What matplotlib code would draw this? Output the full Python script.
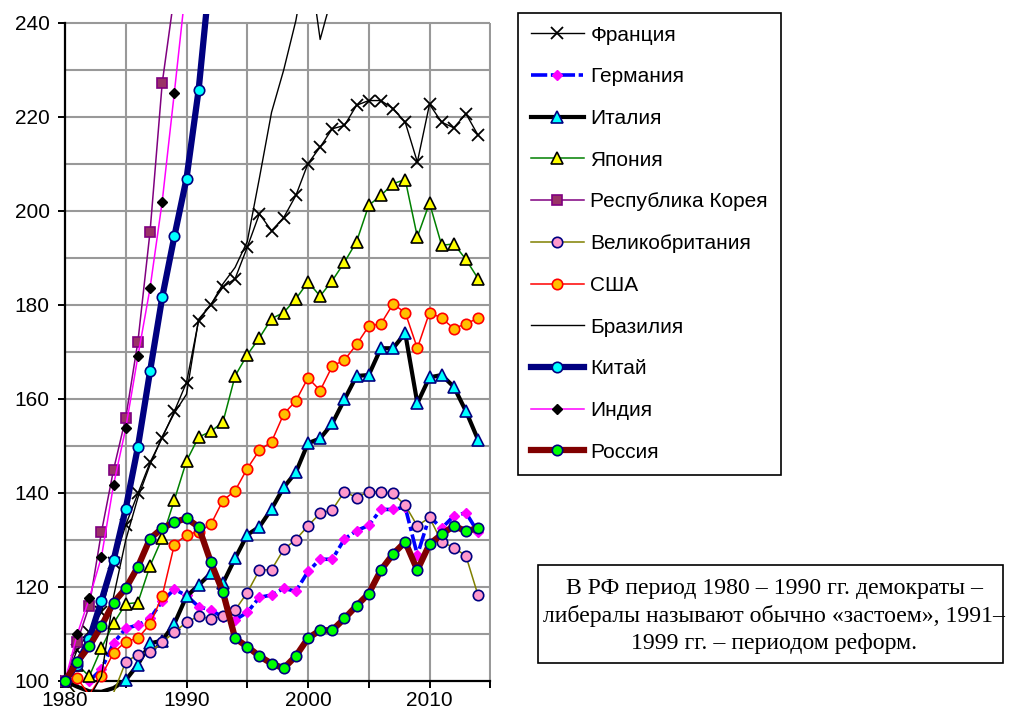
import matplotlib
matplotlib.use("Agg")
import matplotlib.pyplot as plt
from matplotlib.lines import Line2D
from matplotlib.patches import Rectangle

years = list(range(1980, 2015))

france = [100, 106.6, 110.5, 114.6, 125.1, 133.2, 139.9, 146.5, 151.7, 157.4,
          163.5, 176.7, 180.1, 183.8, 185.6, 192.3, 199.4, 195.8, 198.6, 203.3,
          210.1, 213.6, 217.5, 218.2, 222.5, 223.5, 223.5, 221.8, 218.9, 210.4,
          222.7, 218.9, 217.7, 220.7, 216.1]
germany = [100, 100.5, 100.0, 102.5, 108.1, 111.2, 111.9, 113.3, 117.0, 119.5,
           118.2, 115.8, 115.1, 113.6, 113.0, 114.6, 117.8, 118.3, 119.7, 119.1,
           123.3, 125.9, 125.9, 130.2, 132.0, 133.1, 136.5, 136.5, 137.0, 126.8,
           135.0, 132.5, 135.1, 135.8, 131.6]
italy = [100, 98.8, 97.8, 97.7, 98.5, 100.2, 103.5, 108.0, 108.6, 112.2,
         118.0, 120.4, 122.9, 120.8, 126.1, 131.1, 132.8, 136.6, 141.2, 144.4,
         150.6, 151.6, 154.8, 159.9, 164.9, 165.1, 170.8, 170.8, 174.0, 159.1,
         164.6, 165.1, 162.6, 157.4, 151.3]
japan = [100, 103.5, 101.0, 107.0, 112.3, 116.4, 116.7, 124.5, 130.4, 138.5,
         146.8, 151.9, 153.1, 155.1, 164.9, 169.4, 173.0, 177.1, 178.4, 181.3,
         184.9, 181.9, 185.2, 189.1, 193.5, 201.2, 203.3, 205.8, 206.7, 194.5,
         201.7, 192.7, 193.0, 189.7, 185.6]
korea = [100, 108.3, 116.0, 131.7, 145.0, 156.0, 172.2, 195.6, 227.2, 246,
         268, 295, 315, 340, 375, 420, 445, 420, 330, 395,
         450, 430, 480, 515, 570, 650, 720, 790, 700, 640,
         740, 800, 810, 860, 920]
uk = [100, 97.0, 96.5, 96.0, 97.5, 104.1, 105.6, 106.2, 108.2, 110.4,
      112.5, 113.8, 113.2, 113.8, 115.1, 118.8, 123.6, 123.7, 128.0, 130.1,
      133.0, 135.7, 136.4, 140.3, 139.0, 140.3, 140.3, 139.9, 137.4, 133.0,
      134.8, 129.6, 128.4, 126.6, 118.2]
usa = [100, 100.6, 97.0, 101.1, 106.0, 108.4, 109.1, 112.1, 118.1, 129.0,
       131.1, 131.8, 133.3, 138.4, 140.5, 145.2, 149.1, 150.9, 156.8, 159.6,
       164.5, 161.8, 167.0, 168.3, 171.6, 175.5, 176.0, 180.2, 178.4, 170.8,
       178.4, 177.2, 175.0, 176.0, 177.2]
brazil = [100, 97.0, 96.5, 101.0, 118.0, 130.0, 139.0, 146.0, 152.0, 157.0,
          161.0, 177.0, 180.0, 184.5, 188.0, 193.5, 207.0, 221.0, 230.0, 240.5,
          255.0, 236.5, 246.0, 262, 290, 340, 400, 480, 560, 560,
          700, 780, 720, 700, 690]
china = [100, 103.5, 108.9, 117.1, 125.7, 136.7, 149.8, 165.9, 181.6, 194.6,
         206.9, 225.8, 252, 265, 300, 340, 380, 410, 420, 430,
         460, 500, 540, 600, 680, 800, 950, 1200, 1500, 1650,
         1900, 2300, 2500, 2700, 2900]
india = [100, 109.9, 117.6, 126.4, 141.8, 153.8, 169.1, 183.6, 202.0, 225.2,
         249, 247, 260, 265, 290, 330, 355, 370, 385, 410,
         430, 450, 470, 560, 670, 770, 880, 1150, 1180, 1300,
         1600, 1750, 1750, 1780, 1950]
russia = [100, 104.0, 107.4, 111.7, 116.7, 119.7, 124.3, 130.3, 132.5, 133.8,
          134.6, 132.8, 125.3, 118.9, 109.1, 107.3, 105.3, 103.7, 102.7, 105.3,
          109.1, 110.8, 110.8, 113.3, 116.0, 118.6, 123.6, 127.0, 129.6, 123.6,
          129.1, 131.2, 133.0, 131.9, 132.5]

note = ("В РФ период 1980 – 1990 гг. демократы –\n"
        "либералы называют обычно «застоем», 1991–\n"
        "1999 гг. – периодом реформ.")

series = [
    ('Франция', france, dict(color='black', lw=1.0, marker='x', ms=9, mew=1.3)),
    ('Германия', germany, dict(color='#0000FF', lw=2.6, dashes=(4.5, 1.0, 1.2, 1.0),
                               marker='D', ms=5, mfc='#FF00FF', mec='#FF00FF')),
    ('Италия', italy, dict(color='black', lw=3.0, marker='^', ms=9,
                           mfc='#00FFFF', mec='#000080', mew=1.2)),
    ('Япония', japan, dict(color='#008000', lw=1.1, marker='^', ms=9,
                           mfc='#FFFF00', mec='black', mew=1.2)),
    ('Республика Корея', korea, dict(color='#800080', lw=1.1, marker='s', ms=7,
                                     mfc='#993366', mec='#800080', mew=1.2)),
    ('Великобритания', uk, dict(color='#808000', lw=1.1, marker='o', ms=7.5,
                                mfc='#FF99CC', mec='#000080', mew=1.2)),
    ('США', usa, dict(color='#FF0000', lw=1.1, marker='o', ms=7.5,
                      mfc='#FFC000', mec='#FF0000', mew=1.2)),
    ('Бразилия', brazil, dict(color='black', lw=1.0)),
    ('Китай', china, dict(color='#000080', lw=4.5, marker='o', ms=7.5,
                          mfc='#00FFFF', mec='#000080', mew=1.2)),
    ('Индия', india, dict(color='#FF00FF', lw=1.1, marker='D', ms=5,
                          mfc='black', mec='black')),
    ('Россия', russia, dict(color='#800000', lw=4.5, marker='o', ms=7.5,
                            mfc='#00FF00', mec='#000080', mew=1.2)),
]

plt.rcParams['font.family'] = ['Liberation Sans', 'DejaVu Sans']

W, H = 1017, 719
fig = plt.figure(figsize=(W / 100, H / 100), dpi=100)

# pixel geometry of the plot area (1980 -> x=65, 100 -> y=681)
x0, sx = 65, 12.15
y0, sy = 681, 4.7
xl, xr = 1979.6, 2015.1
yb, yt = 97.66, 241.85
left = x0 + (xl - 1980) * sx
right = x0 + (xr - 1980) * sx
top = y0 - (yt - 100) * sy
bottom = y0 - (yb - 100) * sy
ax = fig.add_axes([left / W, 1 - bottom / H, (right - left) / W, (bottom - top) / H])
ax.set_xlim(xl, xr)
ax.set_ylim(yb, yt)
ax.patch.set_alpha(0)

grid = dict(color='#999999', lw=1.5, zorder=0)
ax.hlines(range(110, 241, 10), 1980, 2015, **grid)
ax.vlines(range(1985, 2016, 5), 100, 240, **grid)

for s in ('top', 'right'):
    ax.spines[s].set_visible(False)
ax.spines['left'].set_position(('data', 1980))
ax.spines['left'].set_bounds(100, 240)
ax.spines['bottom'].set_position(('data', 100))
ax.spines['bottom'].set_bounds(1980, 2015)
for s in ('left', 'bottom'):
    ax.spines[s].set_linewidth(1.6)
    ax.spines[s].set_zorder(1)

ax.set_xticks(range(1980, 2016, 5))
ax.set_xticklabels(['1980', '', '1990', '', '2000', '', '2010', ''])
ax.set_yticks(range(100, 241, 20))
ax.tick_params(direction='out', length=5, width=1.4, labelsize=15, pad=2)
ax.tick_params(axis='y', pad=6)

handles = []
for name, vals, st in series:
    # Excel does not draw markers for points under the axis minimum
    shown = [i for i, v in enumerate(vals) if v >= 99.5]
    ax.plot(years, vals, markevery=shown, **st)
    handles.append(Line2D([], [], label=name, **st))

leg = fig.legend(handles=handles, loc='upper left', bbox_to_anchor=(518 / W, 1 - 12.7 / H),
                 frameon=True, fancybox=False, framealpha=1, edgecolor='black',
                 fontsize=15, handlelength=2.55, handletextpad=0.3, labelspacing=1.09,
                 borderpad=0.62, borderaxespad=0, numpoints=1)
leg.get_frame().set_linewidth(1.2)

fig.add_artist(Rectangle((538 / W, 1 - 663 / H), (1003 - 538) / W, (663 - 565) / H,
                         transform=fig.transFigure, fill=False, ec='black', lw=1.2))
fig.text(774 / W, 1 - 616 / H, note, ha='center', va='center', fontsize=17.1,
         family=['Liberation Serif', 'DejaVu Serif'], linespacing=1.36)

fig.savefig('out.png', dpi=100)
